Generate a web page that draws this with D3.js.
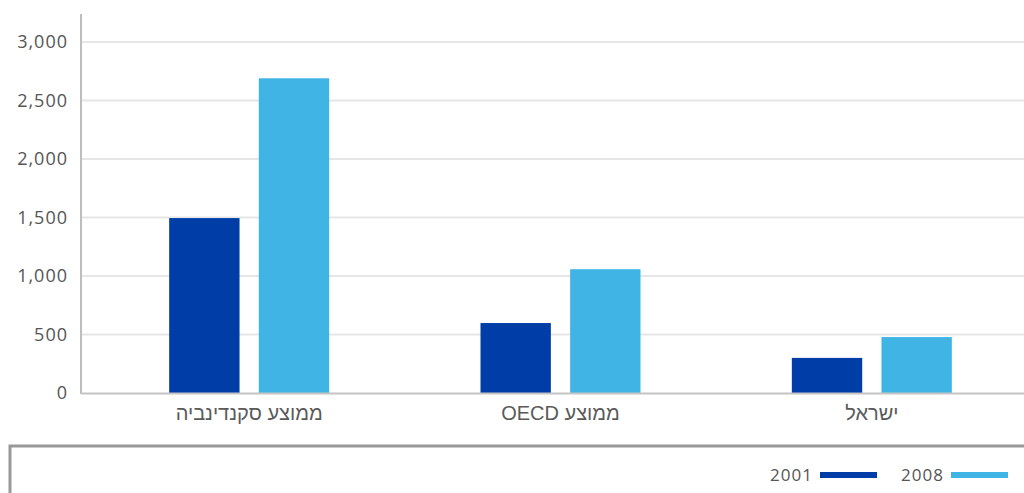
<!DOCTYPE html>
<html><head><meta charset="utf-8">
<script src="https://cdn.jsdelivr.net/npm/d3@7"></script>
<style>
html,body{margin:0;padding:0;background:#fff;}
svg{display:block;}
</style></head>
<body>
<svg id="chart" width="1024" height="493"></svg>
<script>
const categories = ["ממוצע סקנדינביה", "ממוצע OECD", "ישראל"];
const years = ["2001", "2008"];
const values2001 = [1495, 598, 300];
const values2008 = [2690, 1058, 478];
const yTicks = [0, 500, 1000, 1500, 2000, 2500, 3000];
const colors = ["#003da6", "#41b4e6"];

const series = [values2001, values2008];
const data = categories.map((c, i) => ({cat: c, vals: years.map((y, j) => ({year: y, value: series[j][i]}))}));

const svg = d3.select("#chart");
const W = 1024;
const axisX = 81, plotTop = 14, baseY = 393;
const numFont = "'Open Sans', 'Noto Sans', sans-serif";

const y = d3.scaleLinear().domain([0, 3000]).range([baseY, 42]);
const x = d3.scaleBand().domain(categories).range([93.5, 1027.5]).paddingInner(0).paddingOuter(0);
const xi = d3.scaleBand().domain(years).range([-80, 80]).paddingInner(0.215).paddingOuter(0);

// gridlines
svg.append("g").selectAll("line").data(yTicks.filter(t => t > 0)).join("line")
  .attr("x1", axisX + 1).attr("x2", W)
  .attr("y1", d => y(d)).attr("y2", d => y(d))
  .attr("stroke", "#e6e6e6").attr("stroke-width", 2);

// y tick labels via axis
const yAxis = d3.axisLeft(y).tickValues(yTicks).tickFormat(d3.format(",")).tickSize(0).tickPadding(0);
const ya = svg.append("g").attr("transform", `translate(68,0)`).call(yAxis);
ya.select(".domain").remove();
ya.selectAll("text").attr("font-family", numFont).attr("font-size", 18)
  .attr("fill", "#555").attr("letter-spacing", "1px");

// bars
const g = svg.append("g").selectAll("g").data(data).join("g")
  .attr("transform", d => `translate(${x(d.cat) + x.bandwidth() / 2},0)`);
g.selectAll("rect").data(d => d.vals).join("rect")
  .attr("x", d => xi(d.year)).attr("width", xi.bandwidth())
  .attr("y", d => y(d.value)).attr("height", d => baseY - y(d.value))
  .attr("fill", (d, i) => colors[i]);

// axes lines
svg.append("line").attr("x1", axisX).attr("x2", axisX).attr("y1", plotTop).attr("y2", baseY + 1)
  .attr("stroke", "#bdbdbd").attr("stroke-width", 2);
svg.append("line").attr("x1", axisX).attr("x2", W).attr("y1", baseY + 0.5).attr("y2", baseY + 0.5)
  .attr("stroke", "#c4c4c4").attr("stroke-width", 2);

// x labels via axis
const xAxis = d3.axisBottom(x).tickSize(0).tickPadding(0);
const xa = svg.append("g").attr("transform", `translate(0,${baseY + 13})`).call(xAxis);
xa.select(".domain").remove();
xa.selectAll("text").attr("font-family", "'Liberation Sans', sans-serif")
  .attr("font-size", 20).attr("fill", "#5a5a5a").attr("dy", "0.71em")
  .attr("direction", "rtl").attr("text-anchor", "middle");

// legend box
svg.append("rect").attr("x", 10).attr("y", 446).attr("width", 1030).attr("height", 60)
  .attr("fill", "none").attr("stroke", "#999").attr("stroke-width", 3);

const legendItems = [
  {label: years[0], color: colors[0], tx: 813, sx: 820},
  {label: years[1], color: colors[1], tx: 944, sx: 951}
];
const lg = svg.append("g").selectAll("g").data(legendItems).join("g");
lg.append("rect").attr("x", d => d.sx).attr("y", 472).attr("width", 57).attr("height", 6).attr("fill", d => d.color);
lg.append("text").attr("x", d => d.tx).attr("y", 481).attr("text-anchor", "end")
  .attr("font-family", numFont).attr("font-size", 17).attr("fill", "#555")
  .attr("letter-spacing", "1px").text(d => d.label);
</script>
</body></html>
